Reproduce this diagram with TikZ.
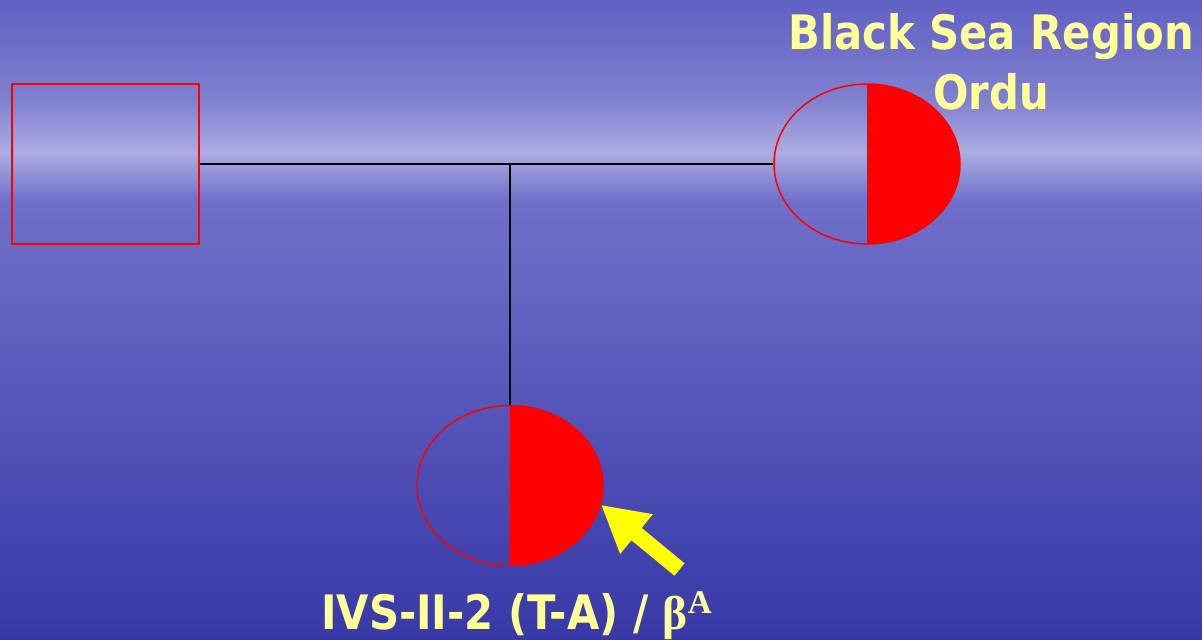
\documentclass[tikz,border=0pt]{standalone}
\usepackage{fontspec}
\usepackage{tikz}
\usetikzlibrary{shapes.geometric,arrows.meta}
\usepackage{xcolor}
\definecolor{seatop}{RGB}{96,96,196}
\definecolor{seasky}{RGB}{128,128,208}
\definecolor{seahorizon}{RGB}{172,172,226}
\definecolor{seanear}{RGB}{112,112,202}
\definecolor{seamid}{RGB}{82,82,188}
\definecolor{seabottom}{RGB}{56,56,168}
\definecolor{labelyellow}{RGB}{255,255,153}
\definecolor{pointeryellow}{RGB}{255,255,0}
\newfontfamily\labelfont{DejaVu Sans}[FakeStretch=0.88]
\newfontfamily\serifsym{Liberation Serif}

\begin{document}
\begin{tikzpicture}[
    male/.style={draw=red, line width=0.03cm, minimum width=3.74cm, minimum height=3.2cm, inner sep=0pt},
    carrier/.style={ellipse, draw=red, line width=0.03cm, minimum width=3.72cm, minimum height=3.2cm, inner sep=0pt,
        path picture={\fill[red] (path picture bounding box.north) rectangle (path picture bounding box.south east);}},
    mating/.style={black, line width=0.03cm},
    caption/.style={text=labelyellow, font=\labelfont\bfseries\fontsize{27}{34}\selectfont}
]
    % sea background
    \useasboundingbox (0,0) rectangle (24.04,-12.78);
    \shade[top color=seatop, bottom color=seasky] (0,0) rectangle (24.04,-2.0);
    \shade[top color=seasky, bottom color=seahorizon] (0,-2.0) rectangle (24.04,-3.05);
    \shade[top color=seahorizon, bottom color=seanear] (0,-3.05) rectangle (24.04,-4.0);
    \shade[top color=seanear, middle color=seamid, bottom color=seabottom] (0,-4.0) rectangle (24.04,-12.78);

    % parents
    \node[male] (father) at (2.11,-3.28) {};
    \node[carrier] (mother) at (17.34,-3.28) {};
    \draw[mating] (father.east) -- (mother.west);
    \coordinate (sibship) at (10.2,-3.28);

    % child
    \node[carrier] (proband) at (10.2,-9.71) {};
    \draw[mating] (sibship) -- (proband.north);

    % proband arrow
    \coordinate (tail) at (13.59,-11.39);
    \draw[pointeryellow, line width=0.32cm, -{Triangle[length=0.92cm,width=0.96cm]}] (tail) -- (proband.-12);

    % labels
    \node[caption, align=center, anchor=north] (region) at (19.82,-0.14) {Black Sea Region\\Ordu};
    \node[caption, anchor=base] (mutation) at (10.34,-12.58)
        {IVS-II-2 (T-A) / {\serifsym\bfseries β\textsuperscript{A}}};
\end{tikzpicture}
\end{document}
